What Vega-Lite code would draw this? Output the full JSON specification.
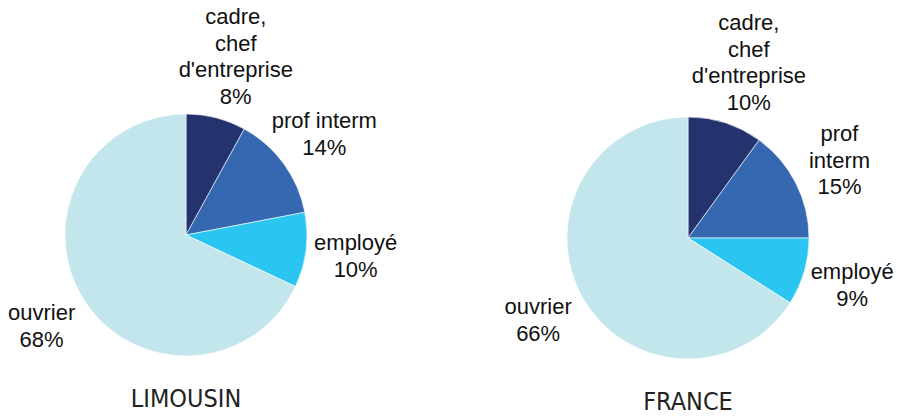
{
  "$schema": "https://vega.github.io/schema/vega-lite/v6.json",
  "width": 897,
  "height": 417,
  "autosize": {"type": "fit", "contains": "padding"},
  "padding": 0,
  "background": "white",
  "config": {"view": {"stroke": null}},
  "datasets": {
    "parts": [
      {"region": "LIMOUSIN", "cat": "cadre", "order": 1, "value": 8, "label": "cadre,\nchef\nd'entreprise\n8%"},
      {"region": "LIMOUSIN", "cat": "prof interm", "order": 2, "value": 14, "label": "prof interm\n14%"},
      {"region": "LIMOUSIN", "cat": "employé", "order": 3, "value": 10, "label": "employé\n10%"},
      {"region": "LIMOUSIN", "cat": "ouvrier", "order": 4, "value": 68, "label": "ouvrier\n68%"},
      {"region": "FRANCE", "cat": "cadre", "order": 1, "value": 10, "label": "cadre,\nchef\nd'entreprise\n10%"},
      {"region": "FRANCE", "cat": "prof interm", "order": 2, "value": 15, "label": "prof\ninterm\n15%"},
      {"region": "FRANCE", "cat": "employé", "order": 3, "value": 9, "label": "employé\n9%"},
      {"region": "FRANCE", "cat": "ouvrier", "order": 4, "value": 66, "label": "ouvrier\n66%"}
    ],
    "regions": [
      {"region": "LIMOUSIN"},
      {"region": "FRANCE"}
    ]
  },
  "encoding": {
    "x": {"field": "region", "type": "nominal", "scale": {"type": "point", "domain": ["LIMOUSIN", "FRANCE"], "range": [186, 688], "padding": 0}, "axis": null},
    "y": {"field": "region", "type": "nominal", "scale": {"type": "point", "domain": ["LIMOUSIN", "FRANCE"], "range": [235, 238], "padding": 0}, "axis": null}
  },
  "layer": [
    {
      "data": {"name": "parts"},
      "transform": [
        {"stack": "value", "groupby": ["region"], "sort": [{"field": "order", "order": "ascending"}], "as": ["v0", "v1"]}
      ],
      "mark": {"type": "arc", "outerRadius": 121, "stroke": "white", "strokeWidth": 0.6},
      "encoding": {
        "theta": {"field": "v0", "type": "quantitative", "scale": {"domain": [0, 100], "range": [0, 6.283185307]}},
        "theta2": {"field": "v1"},
        "color": {"field": "cat", "type": "nominal", "scale": {"domain": ["cadre", "prof interm", "employé", "ouvrier"], "range": ["#24326E", "#3668B1", "#2BC5F2", "#C3E6EC"]}, "legend": null}
      }
    },
    {
      "data": {"name": "parts"},
      "transform": [
        {"stack": "value", "groupby": ["region"], "sort": [{"field": "order", "order": "ascending"}], "as": ["v0", "v1"]},
        {"calculate": "(datum.v0 + datum.v1) / 2", "as": "mid"},
        {"filter": "length(split(datum.label, '\\n')) == 2"}
      ],
      "mark": {"type": "text", "radius": 171, "dy": -13.25, "align": "center", "baseline": "middle", "lineBreak": "\n", "lineHeight": 26.5, "font": "Liberation Sans", "fontSize": 22, "color": "#111111"},
      "encoding": {
        "theta": {"field": "mid", "type": "quantitative", "scale": {"domain": [0, 100], "range": [0, 6.283185307]}},
        "text": {"field": "label"}
      }
    },
    {
      "data": {"name": "parts"},
      "transform": [
        {"stack": "value", "groupby": ["region"], "sort": [{"field": "order", "order": "ascending"}], "as": ["v0", "v1"]},
        {"calculate": "(datum.v0 + datum.v1) / 2", "as": "mid"},
        {"filter": "length(split(datum.label, '\\n')) == 3"}
      ],
      "mark": {"type": "text", "radius": 170, "dy": -26.5, "align": "center", "baseline": "middle", "lineBreak": "\n", "lineHeight": 26.5, "font": "Liberation Sans", "fontSize": 22, "color": "#111111"},
      "encoding": {
        "theta": {"field": "mid", "type": "quantitative", "scale": {"domain": [0, 100], "range": [0, 6.283185307]}},
        "text": {"field": "label"}
      }
    },
    {
      "data": {"name": "parts"},
      "transform": [
        {"stack": "value", "groupby": ["region"], "sort": [{"field": "order", "order": "ascending"}], "as": ["v0", "v1"]},
        {"calculate": "(datum.v0 + datum.v1) / 2", "as": "mid"},
        {"filter": "length(split(datum.label, '\\n')) == 4"}
      ],
      "mark": {"type": "text", "radius": 184, "dx": 4, "dy": -39.75, "align": "center", "baseline": "middle", "lineBreak": "\n", "lineHeight": 26.5, "font": "Liberation Sans", "fontSize": 22, "color": "#111111"},
      "encoding": {
        "theta": {"field": "mid", "type": "quantitative", "scale": {"domain": [0, 100], "range": [0, 6.283185307]}},
        "text": {"field": "label"}
      }
    },
    {
      "data": {"name": "regions"},
      "mark": {"type": "text", "align": "center", "baseline": "alphabetic", "dy": 172, "font": "Liberation Sans Narrow, DejaVu Sans Condensed, sans-serif", "fontSize": 25, "color": "#222222"},
      "encoding": {
        "text": {"field": "region"}
      }
    }
  ]
}
